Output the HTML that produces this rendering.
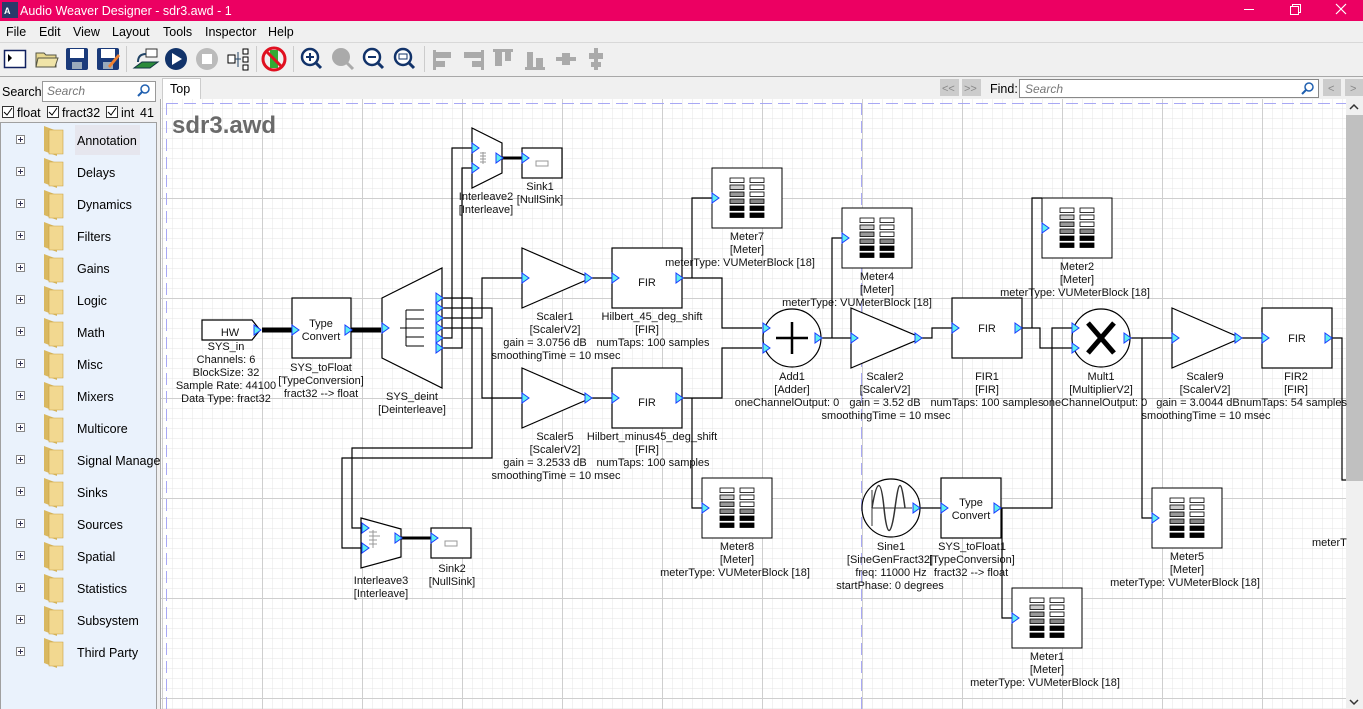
<!DOCTYPE html>
<html><head><meta charset="utf-8"><style>
html,body{margin:0;padding:0;width:1363px;height:709px;overflow:hidden;background:#f0f0f0;font-family:"Liberation Sans",sans-serif}
svg{display:block}
</style></head><body>
<svg width="1363" height="709" xmlns="http://www.w3.org/2000/svg" font-family="Liberation Sans, sans-serif">
<defs>
<pattern id="g1" x="2" y="8" width="10" height="10" patternUnits="userSpaceOnUse"><path d="M0 0H10M0 0V10" stroke="#e4e4e4" stroke-width="1" fill="none"/></pattern>
<pattern id="g2" x="62" y="98" width="100" height="100" patternUnits="userSpaceOnUse"><path d="M0 0.5H100M0.5 0V100" stroke="#cfcfcf" stroke-width="1" fill="none"/></pattern>
<g id="pt"><path d="M0 -5L7 0L0 5Z" fill="#5ef0f0" stroke="#1a3cff" stroke-width="1"/></g>
<g id="mtr">
<rect x="0" y="0" width="70" height="60" fill="#fff" stroke="#000"/>
<rect x="18" y="10" width="14" height="4.5" fill="#fff" stroke="#000" stroke-width="0.8"/>
<rect x="18" y="17" width="14" height="4.5" fill="#ccc" stroke="#000" stroke-width="0.8"/>
<rect x="18" y="24" width="14" height="4.5" fill="#999" stroke="#000" stroke-width="0.8"/>
<rect x="18" y="31" width="14" height="4.5" fill="#888" stroke="#000" stroke-width="0.8"/>
<rect x="18" y="38" width="14" height="4.5" fill="#000" stroke="#000" stroke-width="0.8"/>
<rect x="18" y="45" width="14" height="4.5" fill="#000" stroke="#000" stroke-width="0.8"/>
<rect x="38" y="10" width="14" height="4.5" fill="#fff" stroke="#000" stroke-width="0.8"/>
<rect x="38" y="17" width="14" height="4.5" fill="#fff" stroke="#000" stroke-width="0.8"/>
<rect x="38" y="24" width="14" height="4.5" fill="#fff" stroke="#000" stroke-width="0.8"/>
<rect x="38" y="31" width="14" height="4.5" fill="#888" stroke="#000" stroke-width="0.8"/>
<rect x="38" y="38" width="14" height="4.5" fill="#000" stroke="#000" stroke-width="0.8"/>
<rect x="38" y="45" width="14" height="4.5" fill="#000" stroke="#000" stroke-width="0.8"/>
<use href="#pt" x="0" y="30"/>
</g>
</defs>

<rect x="0" y="0" width="1363" height="21" fill="#ec0062"/>
<rect x="2" y="2" width="16" height="16" fill="#2a3a6a"/>
<text x="4" y="14" font-size="9" fill="#fff" font-weight="bold">A</text>
<text x="20" y="15" font-size="12.5" fill="#fff">Audio Weaver Designer - sdr3.awd - 1</text>
<path d="M1244 9.5H1254" stroke="#fff"/>
<rect x="1290.5" y="6.5" width="8" height="8" fill="none" stroke="#fff"/><path d="M1292.5 6.5V4.5H1300.5V12.5H1298.5" fill="none" stroke="#fff"/>
<path d="M1336 4L1346 14M1346 4L1336 14" stroke="#fff" stroke-width="1.2"/>

<g font-size="12.5" fill="#000">
<text x="6" y="36">File</text><text x="39" y="36">Edit</text><text x="73" y="36">View</text><text x="112" y="36">Layout</text><text x="163" y="36">Tools</text><text x="205" y="36">Inspector</text><text x="268" y="36">Help</text>
</g>
<path d="M0 42.5H1363" stroke="#d8d8d8"/>

<g>
<rect x="4.5" y="50.5" width="21" height="17" fill="#fff" stroke="#102060" stroke-width="1.5"/><path d="M8 54L12 58L8 62Z" fill="#000"/>
<path d="M36 53H44L46 55H56V67H36Z" fill="#e8d890" stroke="#554" /><path d="M38 58H58L55 67H36Z" fill="#f0e4a8" stroke="#554"/>
<rect x="66" y="48" width="22" height="22" fill="#1a3a7a" rx="2"/><rect x="70" y="49" width="14" height="9" fill="#fff"/><rect x="72" y="62" width="10" height="7" fill="#9ab"/>
<rect x="97" y="48" width="22" height="22" fill="#1a3a7a" rx="2"/><rect x="101" y="49" width="14" height="9" fill="#fff"/><rect x="103" y="62" width="10" height="7" fill="#9ab"/><path d="M108 66L118 54L120 56L110 68Z" fill="#f08030"/>
<path d="M126.5 46V72" stroke="#ccc"/>
<rect x="146" y="49" width="11" height="8" fill="#fff" stroke="#333"/><path d="M134 68L142 62H158L150 68Z" fill="#2a8a3a" stroke="#134"/><path d="M138 62Q138 54 146 54" fill="none" stroke="#246" stroke-width="2"/>
<circle cx="176" cy="59" r="11" fill="#12336a"/><path d="M172 53L182 59L172 65Z" fill="#fff"/>
<circle cx="207" cy="59" r="11" fill="#bbb"/><rect x="202" y="54" width="10" height="10" fill="#fff"/>
<rect x="228" y="55" width="7" height="8" fill="#fff" stroke="#000"/><rect x="243" y="49" width="5" height="5" fill="#fff" stroke="#000"/><rect x="243" y="57" width="5" height="5" fill="#fff" stroke="#000"/><rect x="243" y="65" width="5" height="5" fill="#fff" stroke="#000"/><path d="M235 59H241M238 52V67" stroke="#246"/>
<path d="M256.5 46V72" stroke="#ccc"/>
<rect x="270" y="50" width="8" height="18" fill="#3a3"/><circle cx="274" cy="59" r="11" fill="none" stroke="#e01020" stroke-width="3"/><path d="M266 51L282 67" stroke="#e01020" stroke-width="3"/>
<path d="M293.5 46V72" stroke="#ccc"/>
<circle cx="310" cy="57" r="8" fill="#fff" stroke="#12336a" stroke-width="2.5"/><path d="M316 63L321 68" stroke="#12336a" stroke-width="3"/><path d="M306 57H314M310 53V61" stroke="#12336a" stroke-width="2"/>
<circle cx="341" cy="57" r="9" fill="#aaa"/><path d="M347 63L353 69" stroke="#aaa" stroke-width="3"/>
<circle cx="372" cy="57" r="8" fill="#fff" stroke="#12336a" stroke-width="2.5"/><path d="M378 63L383 68" stroke="#12336a" stroke-width="3"/><path d="M368 57H376" stroke="#12336a" stroke-width="2"/>
<circle cx="403" cy="57" r="8" fill="#fff" stroke="#12336a" stroke-width="2.5"/><path d="M409 63L414 68" stroke="#12336a" stroke-width="3"/><rect x="399" y="54" width="8" height="5" fill="none" stroke="#12336a"/>
<path d="M424.5 46V72" stroke="#ccc"/>
<g fill="#aaa"><rect x="433" y="50" width="3" height="20"/><rect x="436" y="52" width="15" height="6"/><rect x="436" y="61" width="9" height="6"/>
<rect x="481" y="50" width="3" height="20"/><rect x="464" y="52" width="17" height="6"/><rect x="472" y="61" width="9" height="6"/>
<rect x="493" y="49" width="20" height="3"/><rect x="495" y="52" width="7" height="14"/><rect x="505" y="52" width="6" height="9"/>
<rect x="525" y="67" width="20" height="3"/><rect x="527" y="52" width="6" height="15"/><rect x="536" y="58" width="7" height="9"/>
<rect x="556" y="57" width="20" height="4"/><rect x="562" y="53" width="8" height="12"/>
<rect x="594" y="48" width="4" height="22"/><rect x="589" y="53" width="14" height="6"/><rect x="591" y="62" width="10" height="5"/></g>
</g>
<path d="M0 76.5H1363" stroke="#a8a8a8"/>

<text x="2" y="96" font-size="12.5">Search:</text>
<rect x="42.5" y="81.5" width="113" height="20" fill="#fff" stroke="#999"/>
<text x="47" y="95" font-size="12" font-style="italic" fill="#777">Search</text>
<circle cx="145" cy="89" r="4" fill="none" stroke="#2060b0" stroke-width="1.5"/><path d="M142 92L138 96" stroke="#2060b0" stroke-width="2"/>
<g font-size="12.5">
<rect x="2.5" y="106.5" width="11" height="11" fill="#fff" stroke="#333"/><path d="M4 112L7 115L12 108" fill="none" stroke="#000"/><text x="17" y="117">float</text>
<rect x="47.5" y="106.5" width="11" height="11" fill="#fff" stroke="#333"/><path d="M49 112L52 115L57 108" fill="none" stroke="#000"/><text x="62" y="117">fract32</text>
<rect x="106.5" y="106.5" width="11" height="11" fill="#fff" stroke="#333"/><path d="M108 112L111 115L116 108" fill="none" stroke="#000"/><text x="121" y="117">int</text>
<text x="140" y="117">41</text>
</g>
<rect x="0.5" y="122.5" width="156" height="590" fill="#eaf2fc" stroke="#a0a0a0"/>
<rect x="75" y="125" width="65" height="30" fill="#e6e6ee"/>
<g font-size="12.5" fill="#000">
<g id="fi"><rect x="16.5" y="135.5" width="8" height="8" fill="#fff" stroke="#888"/><path d="M18 139.5H23M20.5 137V142" stroke="#335"/><path d="M44 126L57 131V156L44 151Z" fill="#d9b860"/><path d="M49 130H63V154H49Z" fill="#f2d890" stroke="#c8a040" stroke-width="0.6"/></g>
<use href="#fi" y="32"/><use href="#fi" y="64"/><use href="#fi" y="96"/><use href="#fi" y="128"/><use href="#fi" y="160"/><use href="#fi" y="192"/><use href="#fi" y="224"/><use href="#fi" y="256"/><use href="#fi" y="288"/><use href="#fi" y="320"/><use href="#fi" y="352"/><use href="#fi" y="384"/><use href="#fi" y="416"/><use href="#fi" y="448"/><use href="#fi" y="480"/><use href="#fi" y="512"/>
<text x="77" y="145">Annotation</text><text x="77" y="177">Delays</text><text x="77" y="209">Dynamics</text><text x="77" y="241">Filters</text><text x="77" y="273">Gains</text><text x="77" y="305">Logic</text><text x="77" y="337">Math</text><text x="77" y="369">Misc</text><text x="77" y="401">Mixers</text><text x="77" y="433">Multicore</text><text x="77" y="465">Signal Manage</text><text x="77" y="497">Sinks</text><text x="77" y="529">Sources</text><text x="77" y="561">Spatial</text><text x="77" y="593">Statistics</text><text x="77" y="625">Subsystem</text><text x="77" y="657">Third Party</text>
</g>

<rect x="162.5" y="78.5" width="38" height="22" fill="#fff" stroke="#ccc"/>
<text x="170" y="93" font-size="12.5">Top</text>
<rect x="940" y="79" width="19" height="17" fill="#ccc"/><text x="942" y="92" font-size="11" fill="#888">&lt;&lt;</text>
<rect x="962" y="79" width="19" height="17" fill="#ccc"/><text x="964" y="92" font-size="11" fill="#888">&gt;&gt;</text>
<text x="990" y="93" font-size="12.5">Find:</text>
<rect x="1019.5" y="79.5" width="299" height="18" fill="#fff" stroke="#888"/>
<text x="1025" y="93" font-size="12" font-style="italic" fill="#777">Search</text>
<circle cx="1309" cy="87" r="4" fill="none" stroke="#2060b0" stroke-width="1.5"/><path d="M1306 90L1302 94" stroke="#2060b0" stroke-width="2"/>
<rect x="1323" y="79" width="18" height="17" fill="#ccc"/><text x="1328" y="92" font-size="11" fill="#888">&lt;</text>
<rect x="1345" y="79" width="18" height="17" fill="#ccc"/><text x="1350" y="92" font-size="11" fill="#888">&gt;</text>

<rect x="160" y="99" width="1186" height="610" fill="#fff"/>
<rect x="160" y="99" width="1186" height="610" fill="url(#g1)"/>
<rect x="160" y="99" width="1186" height="610" fill="url(#g2)"/>
<path d="M160.5 99V709" stroke="#aaa"/>
<path d="M166 103.5H1346" stroke="#a8a8f4" stroke-dasharray="12,6"/>
<path d="M166.5 103V709" stroke="#a8a8f4" stroke-dasharray="12,6"/>
<path d="M861.5 103V709" stroke="#a8a8f4" stroke-dasharray="12,6"/>
<rect x="1346" y="99" width="17" height="610" fill="#f0f0f0"/>
<rect x="1346" y="115" width="17" height="366" fill="#c0c0c0"/>
<path d="M1350 109L1354 105L1358 109" fill="none" stroke="#333" stroke-width="1.5"/>
<path d="M1350 700L1354 704L1358 700" fill="none" stroke="#333" stroke-width="1.5"/>
<text x="172" y="133" font-size="24" font-weight="bold" fill="#6a6a6a">sdr3.awd</text>

<g fill="none" stroke="#000" stroke-width="1.2">
<path d="M442 298H472V448H352V528H362"/>
<path d="M442 308H492V458H342V548H362"/>
<path d="M442 318H482V278H522"/>
<path d="M442 328H482V398H522"/>
<path d="M442 338H452V148H472"/>
<path d="M442 348H462V168H472"/>
<path d="M592 278H612M592 398H612"/>
<path d="M682 278H722V328H762M692 278V198H712"/>
<path d="M682 398H722V348H762M692 398V508H702"/>
<path d="M822 338H851M832 338V238H842"/>
<path d="M922 338H932V328H952"/>
<path d="M1022 328H1040V348H1072M1032 328V198H1042"/>
<path d="M1001 508H1052V328H1072M1002 508V618H1012"/>
<path d="M918 508H941"/>
<path d="M1130 338H1172M1142 338V518H1152"/>
<path d="M1242 338H1262M1332 338H1342V480H1346"/>
</g>
<g stroke="#000" stroke-width="5"><path d="M262 330H292M351 330H381"/></g>
<g stroke="#000" stroke-width="3"><path d="M502 158H522M401 538H431"/></g>

<g fill="#fff" stroke="#000" stroke-width="1.2">
<path d="M202 320H252L260 330L252 340H202Z"/>
<rect x="292" y="298" width="59" height="60"/>
<path d="M382 298L442 268V388L382 358Z"/>
<path d="M472 128L502 143V173L472 188Z"/>
<rect x="522" y="148" width="40" height="30"/>
<path d="M361 518L401 529V557L361 568Z"/>
<rect x="431" y="528" width="40" height="30"/>
<path d="M522 248L591 278L522 308Z"/>
<rect x="612" y="248" width="70" height="60"/>
<path d="M522 368L591 398L522 428Z"/>
<rect x="612" y="368" width="70" height="60"/>
<circle cx="792" cy="338" r="29"/>
<path d="M851 308L922 338L851 368Z"/>
<rect x="952" y="298" width="70" height="60"/>
<circle cx="1101" cy="338" r="29"/>
<path d="M1172 308L1241 338L1172 368Z"/>
<rect x="1262" y="308" width="70" height="60"/>
<circle cx="891" cy="508" r="29"/>
<rect x="941" y="478" width="60" height="60"/>
</g>
<use href="#mtr" x="712" y="168"/>
<use href="#mtr" x="842" y="208"/>
<use href="#mtr" x="1042" y="198"/>
<use href="#mtr" x="702" y="478"/>
<use href="#mtr" x="1152" y="488"/>
<use href="#mtr" x="1012" y="588"/>

<g stroke="#000" stroke-width="1" fill="none">
<path d="M400 328H424M406 310V346M406 310H424M406 319H424M406 337H424M406 346H424"/>
<path d="M776 338H808M792 322V354" stroke-width="2.5"/>
<path d="M1088 323L1114 353M1114 323L1088 353" stroke-width="5"/>
<path d="M872 490V526M872 508H912" stroke="#333"/>
<path d="M872 508C877 478 881 478 884 508S891 538 895 508S901 478 905 508" stroke="#333" stroke-width="1.5"/>
<path d="M483 152V164M480 153H486M480 156H486M480 159H486M480 162H486" stroke="#999"/>
<path d="M373 530V548M369 532H377M369 536H380M369 540H377M369 544H377" stroke="#999"/>
<rect x="536" y="161" width="12" height="5" stroke="#999"/>
<rect x="445" y="541" width="12" height="5" stroke="#999"/>
</g>

<use href="#pt" x="254" y="330"/>
<use href="#pt" x="292" y="330"/><use href="#pt" x="345" y="330"/>
<use href="#pt" x="382" y="328"/>
<use href="#pt" x="436" y="298"/><use href="#pt" x="436" y="308"/><use href="#pt" x="436" y="318"/><use href="#pt" x="436" y="328"/><use href="#pt" x="436" y="338"/><use href="#pt" x="436" y="348"/>
<use href="#pt" x="472" y="148"/><use href="#pt" x="472" y="168"/><use href="#pt" x="496" y="158"/><use href="#pt" x="522" y="158"/>
<use href="#pt" x="362" y="528"/><use href="#pt" x="362" y="548"/><use href="#pt" x="395" y="538"/><use href="#pt" x="431" y="538"/>
<use href="#pt" x="522" y="278"/><use href="#pt" x="585" y="278"/><use href="#pt" x="612" y="278"/><use href="#pt" x="676" y="278"/>
<use href="#pt" x="522" y="398"/><use href="#pt" x="585" y="398"/><use href="#pt" x="612" y="398"/><use href="#pt" x="676" y="398"/>
<use href="#pt" x="763" y="328"/><use href="#pt" x="763" y="348"/><use href="#pt" x="815" y="338"/>
<use href="#pt" x="851" y="338"/><use href="#pt" x="915" y="338"/>
<use href="#pt" x="952" y="328"/><use href="#pt" x="1015" y="328"/>
<use href="#pt" x="1072" y="328"/><use href="#pt" x="1072" y="348"/><use href="#pt" x="1124" y="338"/>
<use href="#pt" x="1172" y="338"/><use href="#pt" x="1235" y="338"/>
<use href="#pt" x="1262" y="338"/><use href="#pt" x="1325" y="338"/>
<use href="#pt" x="913" y="508"/><use href="#pt" x="941" y="508"/><use href="#pt" x="994" y="508"/>

<g font-size="11" fill="#111" text-anchor="middle">
<text x="230" y="336">HW</text>
<text x="321" y="327">Type</text><text x="321" y="340">Convert</text>
<text x="647" y="286">FIR</text><text x="647" y="406">FIR</text>
<text x="987" y="332">FIR</text><text x="1297" y="342">FIR</text>
<text x="971" y="506">Type</text><text x="971" y="519">Convert</text>

<text x="226" y="350">SYS_in</text><text x="226" y="363">Channels: 6</text><text x="226" y="376">BlockSize: 32</text><text x="226" y="389">Sample Rate: 44100</text><text x="226" y="402">Data Type: fract32</text>
<text x="321" y="371">SYS_toFloat</text><text x="321" y="384">[TypeConversion]</text><text x="321" y="397">fract32 --&gt; float</text>
<text x="412" y="400">SYS_deint</text><text x="412" y="413">[Deinterleave]</text>
<text x="486" y="200">Interleave2</text><text x="486" y="213">[Interleave]</text>
<text x="540" y="190">Sink1</text><text x="540" y="203">[NullSink]</text>
<text x="381" y="584">Interleave3</text><text x="381" y="597">[Interleave]</text>
<text x="452" y="572">Sink2</text><text x="452" y="585">[NullSink]</text>
<text x="555" y="320">Scaler1</text><text x="555" y="333">[ScalerV2]</text><text x="545" y="346">gain = 3.0756 dB</text><text x="556" y="359">smoothingTime = 10 msec</text>
<text x="652" y="320">Hilbert_45_deg_shift</text><text x="647" y="333">[FIR]</text><text x="653" y="346">numTaps: 100 samples</text>
<text x="555" y="440">Scaler5</text><text x="555" y="453">[ScalerV2]</text><text x="545" y="466">gain = 3.2533 dB</text><text x="556" y="479">smoothingTime = 10 msec</text>
<text x="652" y="440">Hilbert_minus45_deg_shift</text><text x="647" y="453">[FIR]</text><text x="653" y="466">numTaps: 100 samples</text>
<text x="747" y="240">Meter7</text><text x="747" y="253">[Meter]</text><text x="740" y="266">meterType: VUMeterBlock [18]</text>
<text x="877" y="280">Meter4</text><text x="877" y="293">[Meter]</text><text x="857" y="306">meterType: VUMeterBlock [18]</text>
<text x="1077" y="270">Meter2</text><text x="1077" y="283">[Meter]</text><text x="1075" y="296">meterType: VUMeterBlock [18]</text>
<text x="792" y="380">Add1</text><text x="792" y="393">[Adder]</text><text x="787" y="406">oneChannelOutput: 0</text>
<text x="885" y="380">Scaler2</text><text x="885" y="393">[ScalerV2]</text><text x="885" y="406">gain = 3.52 dB</text><text x="886" y="419">smoothingTime = 10 msec</text>
<text x="987" y="380">FIR1</text><text x="987" y="393">[FIR]</text><text x="987" y="406">numTaps: 100 samples</text>
<text x="1101" y="380">Mult1</text><text x="1101" y="393">[MultiplierV2]</text><text x="1095" y="406">oneChannelOutput: 0</text>
<text x="1205" y="380">Scaler9</text><text x="1205" y="393">[ScalerV2]</text><text x="1198" y="406">gain = 3.0044 dB</text><text x="1206" y="419">smoothingTime = 10 msec</text>
<text x="1296" y="380">FIR2</text><text x="1296" y="393">[FIR]</text><text x="1240" y="406" text-anchor="start">numTaps: 54 samples</text>
<text x="737" y="550">Meter8</text><text x="737" y="563">[Meter]</text><text x="735" y="576">meterType: VUMeterBlock [18]</text>
<text x="1187" y="560">Meter5</text><text x="1187" y="573">[Meter]</text><text x="1185" y="586">meterType: VUMeterBlock [18]</text>
<text x="1047" y="660">Meter1</text><text x="1047" y="673">[Meter]</text><text x="1045" y="686">meterType: VUMeterBlock [18]</text>
<text x="891" y="550">Sine1</text><text x="890" y="563">[SineGenFract32]</text><text x="891" y="576">freq: 11000 Hz</text><text x="890" y="589">startPhase: 0 degrees</text>
<text x="972" y="550">SYS_toFloat1</text><text x="972" y="563">[TypeConversion]</text><text x="971" y="576">fract32 --&gt; float</text>
<text x="1312" y="546" text-anchor="start">meterT</text>
</g>
</svg>
</body></html>
